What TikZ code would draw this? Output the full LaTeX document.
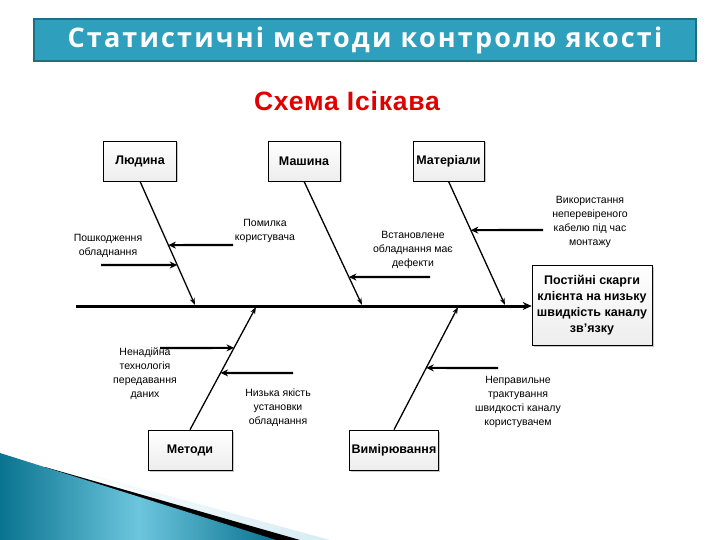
\documentclass[tikz,border=0pt]{standalone}
\usepackage{fontspec}
\setmainfont{Liberation Sans}
\newfontfamily\titlefont[LetterSpace=8]{Open Sans}
\newfontfamily\headfont[LetterSpace=3]{Liberation Sans}
\usetikzlibrary{shadows,arrows.meta,calc}
\definecolor{titlefill}{HTML}{2EA0BE}
\definecolor{titleedge}{HTML}{1F6F82}
\definecolor{headred}{HTML}{E00000}
\definecolor{tealdark}{HTML}{0A7390}
\definecolor{teallight}{HTML}{6CC6DD}
\definecolor{paleblue}{HTML}{D6ECF3}
\tikzset{
  cause/.style={draw=black, line width=0.6pt, top color=white, bottom color=gray!14,
    drop shadow={shadow xshift=1.5pt, shadow yshift=-1.5pt, fill=gray!55, opacity=0.8},
    minimum height=40pt, inner sep=2pt, font=\fontsize{12.5}{14}\selectfont\bfseries},
  effectbox/.style={cause, minimum width=120pt, minimum height=80pt, align=center,
    font=\fontsize{12.5}{16}\selectfont\bfseries},
  bone/.style={line width=1.3pt, -{Stealth[length=7pt,width=5pt]}},
  spine/.style={line width=3pt, -{Stealth[length=9pt,width=8pt]}},
  sub/.style={line width=2.2pt, -{Stealth[length=7.5pt,width=7pt]}},
  lbl/.style={align=center, inner sep=0pt, font=\fontsize{10.5}{14}\selectfont},
}
\begin{document}
\begin{tikzpicture}[x=1pt,y=-1pt]
\useasboundingbox (0,0) rectangle (720,540);
% bottom-left decoration
\shade[left color=white, right color=paleblue] (60,466) -- (330,540) -- (280,540) -- cycle;
\fill[black] (45,467) -- (300,540) -- (268,540) -- (35,469) -- cycle;
\shade[left color=tealdark, right color=tealdark, middle color=teallight] (0,453) -- (276,540) -- (0,540) -- cycle;
% title bar
\node[draw=titleedge, line width=2.5pt, fill=titlefill, minimum width=662pt, minimum height=42pt,
  text=white, font=\titlefont\fontsize{27}{30}\selectfont\bfseries] (title) at (365,40)
  {Статистичні методи контролю якості};
\node[text=headred, font=\headfont\fontsize{26.5}{29}\selectfont\bfseries] (sub) at (347,101) {Схема Ісікава};
% cause boxes
\node[cause, minimum width=73pt] (man) at (140,161) {Людина};
\node[cause, minimum width=72pt] (mach) at (304,161) {Машина};
\node[cause, minimum width=71pt] (mat) at (448.5,161) {Матеріали};
\node[cause, minimum width=84pt] (meth) at (190,450) {Методи};
\node[cause, minimum width=88pt] (meas) at (394,450) {Вимірювання};
\node[effectbox] (eff) at (592,305) {Постійні скарги\\клієнта на низьку\\швидкість каналу\\зв'язку};
% spine
\coordinate (s0) at (76,306);
\draw[spine] (s0) -- (eff.west |- s0);
% bone end points on spine
\coordinate (b1) at (195,305);
\coordinate (b2) at (362,305);
\coordinate (b3) at (505,305);
\coordinate (b4) at (256,307);
\coordinate (b5) at (458,307);
\draw[bone] (man.south) -- (b1);
\draw[bone] (mach.south) -- (b2);
\draw[bone] (mat.south) -- (b3);
\draw[bone] (meth.north) -- (b4);
\draw[bone] (meas.north) -- (b5);
% points on bones
\path (man.south) -- (b1) coordinate[pos=0.677] (p1) coordinate[pos=0.516] (p2);
\path (mach.south) -- (b2) coordinate[pos=0.774] (p3);
\path (mat.south) -- (b3) coordinate[pos=0.395] (p4);
\path (meth.north) -- (b4) coordinate[pos=0.667] (p5) coordinate[pos=0.463] (p6);
\path (meas.north) -- (b5) coordinate[pos=0.504] (p7);
% free ends
\coordinate (q1) at (101,265);
\coordinate (q2) at (233,245);
\coordinate (q3) at (430,277);
\coordinate (q4) at (543,230);
\coordinate (q5) at (160,348);
\coordinate (q6) at (293,373);
\coordinate (q7) at (498,368);
\draw[sub] (q1) -- (p1);
\draw[sub] (q2) -- (p2);
\draw[sub] (q3) -- (p3);
\draw[sub] (q4) -- (p4);
\draw[sub] (q5) -- (p5);
\draw[sub] (q6) -- (p6);
\draw[sub] (q7) -- (p7);
% labels
\node[lbl] (l1) at (108,246) {Пошкодження\\обладнання};
\node[lbl] (l2) at (265,231) {Помилка\\користувача};
\node[lbl] (l3) at (413,250) {Встановлене\\обладнання має\\дефекти};
\node[lbl] (l4) at (590,222) {Використання\\неперевіреного\\кабелю під час\\монтажу};
\node[lbl] (l5) at (145,374) {Ненадійна\\технологія\\передавання\\даних};
\node[lbl] (l6) at (278,408) {Низька якість\\установки\\обладнання};
\node[lbl] (l7) at (518,402) {Неправильне\\трактування\\швидкості каналу\\користувачем};
\end{tikzpicture}
\end{document}
